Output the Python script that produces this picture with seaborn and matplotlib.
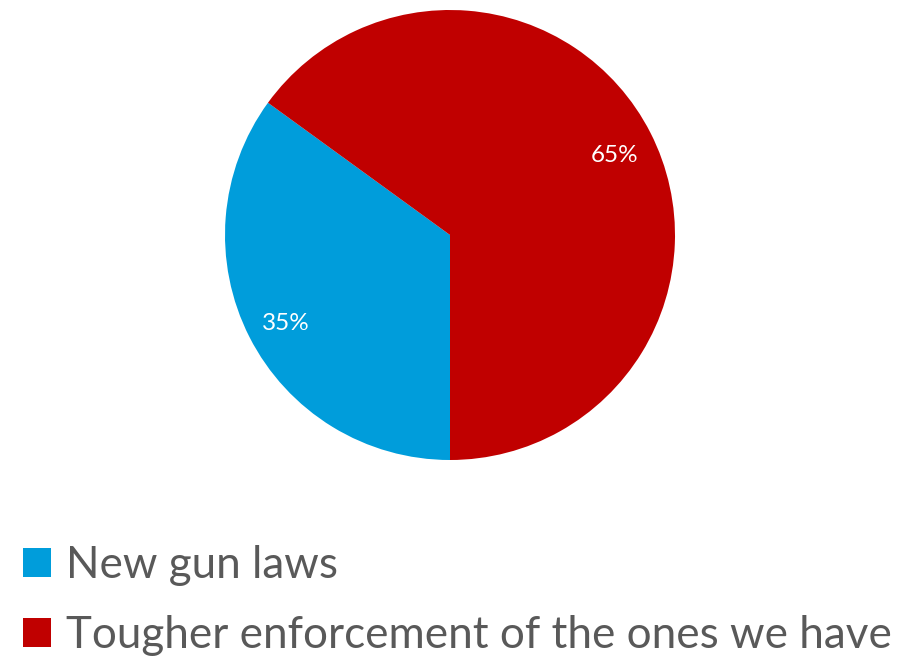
import matplotlib
matplotlib.use("Agg")
import matplotlib.pyplot as plt
import seaborn as sns

# data
categories = ["New gun laws", "Tougher enforcement of the ones we have"]
shares = [35, 65]
colors = ["#009DDB", "#C00000"]

sns.set_style("white")
plt.rcParams['font.family'] = ['Lato', 'DejaVu Sans']

fig = plt.figure(figsize=(9.09, 6.56), dpi=100)
ax = fig.add_axes([225 / 909, (656 - 460) / 656, 450 / 909, 450 / 656])

wedges, _, autotexts = ax.pie(
    shares, colors=colors, startangle=144, counterclock=True,
    autopct="%d%%", pctdistance=0.82,
    wedgeprops=dict(linewidth=0),
    textprops=dict(color="white", fontsize=17.5),
)
# nudge the percentage labels down a little
for t in autotexts:
    x, y = t.get_position()
    t.set_position((x, y - 0.02))

ax.set_xlim(-1, 1)
ax.set_ylim(-1, 1)
ax.set_aspect("equal")
ax.axis("off")

fig.legend(
    wedges, categories, loc="upper left",
    bbox_to_anchor=(23 / 909, 1 - 545 / 656),
    frameon=False, fontsize=31.7, labelcolor="#595959",
    handlelength=0.63, handleheight=0.63, handletextpad=0.35,
    labelspacing=0.66, borderaxespad=0, borderpad=0,
)

fig.savefig("out.png", dpi=100)
